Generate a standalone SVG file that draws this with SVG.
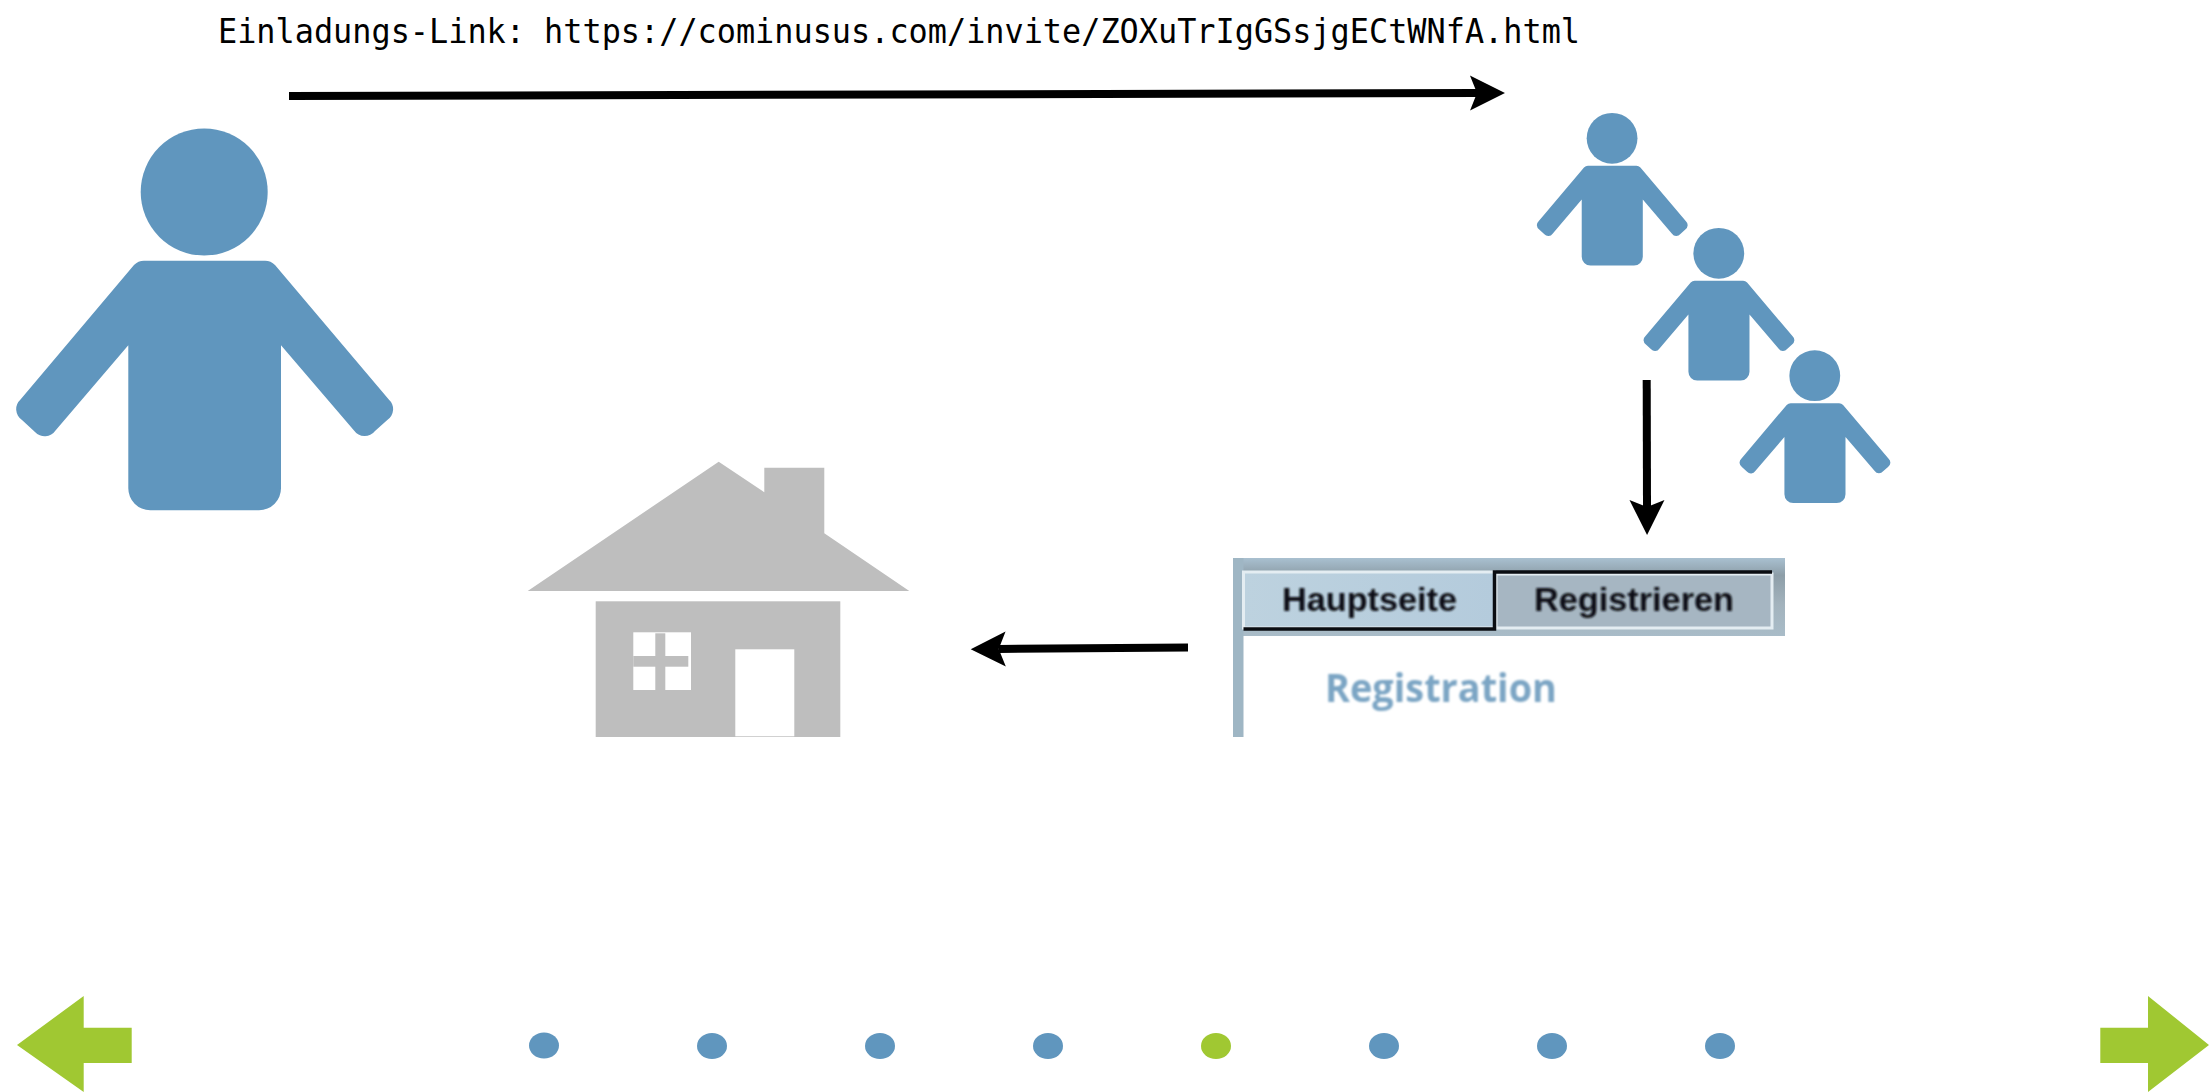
<svg xmlns="http://www.w3.org/2000/svg" width="2209" height="1092" viewBox="0 0 2209 1092">
<style>
.blue{fill:#6096be}
.gray{fill:#bebebe}
.green{fill:#a0c832}
.win{fill:#fff}
.conn{stroke:#000;stroke-width:8;fill:none;marker-end:url(#head)}
.tab{font-family:"Liberation Sans",Arial,sans-serif;font-weight:700;font-size:34px;fill:#0c0f14}
</style>
<defs>
<marker id="head" markerUnits="userSpaceOnUse" markerWidth="60" markerHeight="60" viewBox="-30 -30 60 60" refX="0" refY="0" orient="auto" overflow="visible">
<path d="M28 0L-7 -17.5L0 0L-7 17.5Z" fill="#000"/>
</marker>
<linearGradient id="band" x1="0" y1="0" x2="0" y2="1">
<stop offset="0" stop-color="#a9c0d0"/><stop offset="0.22" stop-color="#8d9ea8"/><stop offset="0.6" stop-color="#a3b3bd"/><stop offset="1" stop-color="#a9bcc8"/>
</linearGradient>
<linearGradient id="tabA" x1="0" y1="0" x2="1" y2="0"><stop offset="0" stop-color="#bdd2df"/><stop offset="1" stop-color="#b4cbdc"/></linearGradient>
<filter id="soft" x="-5%" y="-20%" width="110%" height="140%"><feGaussianBlur stdDeviation="0.8"/></filter>
<g id="person">
<circle cx="204.2" cy="192" r="63.5"/>
<path d="M145 260.7H264A14 14 0 0 1 275 265L388.8 399.5A13 13 0 0 1 387.3 420L375 431A13 13 0 0 1 354 430.5L281 345.3V488A22 22 0 0 1 259 510.3H150.3A22 22 0 0 1 128.3 488V345.3L55.5 430.5A13 13 0 0 1 35 432L22 420A13 13 0 0 1 20.5 399.5L134 265A14 14 0 0 1 145 260.7Z"/>
</g>
</defs>
<rect width="2209" height="1092" fill="#fff"/>
<text id="invite-link" x="218" y="42.5" font-family="'DejaVu Sans Mono','Liberation Mono',monospace" font-size="34" textLength="1362" lengthAdjust="spacingAndGlyphs" fill="#000">Einladungs-Link: https://cominusus.com/invite/ZOXuTrIgGSsjgECtWNfA.html</text>
<g id="inviter"><use href="#person" class="blue"/></g>
<g id="invitee-1"><use href="#person" class="blue" transform="translate(1530.4 61.5) scale(0.4)"/></g>
<g id="invitee-2"><use href="#person" class="blue" transform="translate(1637.1 176.5) scale(0.4)"/></g>
<g id="invitee-3"><use href="#person" class="blue" transform="translate(1733.1 298.9) scale(0.4)"/></g>
<g id="house">
<path class="gray" d="M718.7 461.7L764.3 492.3L764.3 467.7L824.3 467.7L824.3 533.3L909.3 591L527.7 591Z"/>
<rect class="gray" x="595.7" y="601.3" width="244.6" height="135.7"/>
<rect class="win" x="633.3" y="632.3" width="57.7" height="57.7"/>
<rect class="gray" x="655.3" y="633.3" width="10" height="56.7"/>
<rect class="gray" x="633.3" y="656" width="55" height="10.7"/>
<rect class="win" x="735.3" y="649.3" width="59" height="87"/>
</g>
<g id="registration-page">
<rect x="1233" y="558" width="552" height="78" fill="url(#band)"/>
<rect x="1233" y="558" width="10.5" height="179" fill="#9fb6c4"/>
<rect x="1243.5" y="572" width="251" height="56" fill="url(#tabA)" stroke="#e4edf2" stroke-width="3"/>
<rect x="1496" y="574" width="276" height="54" fill="#a6b6c2" stroke="#e4edf2" stroke-width="3"/>
<path d="M1243.5 629H1494.5V572H1772" fill="none" stroke="#0a0d12" stroke-width="3.5"/>
<g filter="url(#soft)">
<text class="tab" x="1282" y="611" textLength="175" lengthAdjust="spacingAndGlyphs">Hauptseite</text>
<text class="tab" x="1534" y="611" textLength="200" lengthAdjust="spacingAndGlyphs">Registrieren</text>
<text x="1325" y="702" font-family="'Open Sans','DejaVu Sans',sans-serif" font-weight="700" font-size="40" textLength="232" lengthAdjust="spacingAndGlyphs" fill="#7ba5c4">Registration</text>
</g>
</g>
<g id="connectors">
<line class="conn" x1="289" y1="96" x2="1477" y2="93"/>
<line class="conn" x1="1646.7" y1="380" x2="1647" y2="507"/>
<line class="conn" x1="1188" y1="647.5" x2="998.7" y2="649"/>
</g>
<g id="nav-prev"><path class="green" d="M17 1045L83.7 996V1027.7H131.7V1063H83.7V1092Z"/></g>
<g id="nav-next"><path class="green" d="M2209 1045L2148 996V1027.7H2100.3V1063H2148V1092Z"/></g>
<g id="pagination">
<ellipse class="blue" cx="544" cy="1045.5" rx="15" ry="13"/>
<ellipse class="blue" cx="712" cy="1046" rx="15" ry="13"/>
<ellipse class="blue" cx="880" cy="1046" rx="15" ry="13"/>
<ellipse class="blue" cx="1048" cy="1046" rx="15" ry="13"/>
<ellipse class="green" cx="1216" cy="1046" rx="15" ry="13"/>
<ellipse class="blue" cx="1384" cy="1046" rx="15" ry="13"/>
<ellipse class="blue" cx="1552" cy="1046" rx="15" ry="13"/>
<ellipse class="blue" cx="1720" cy="1046" rx="15" ry="13"/>
</g>
</svg>
